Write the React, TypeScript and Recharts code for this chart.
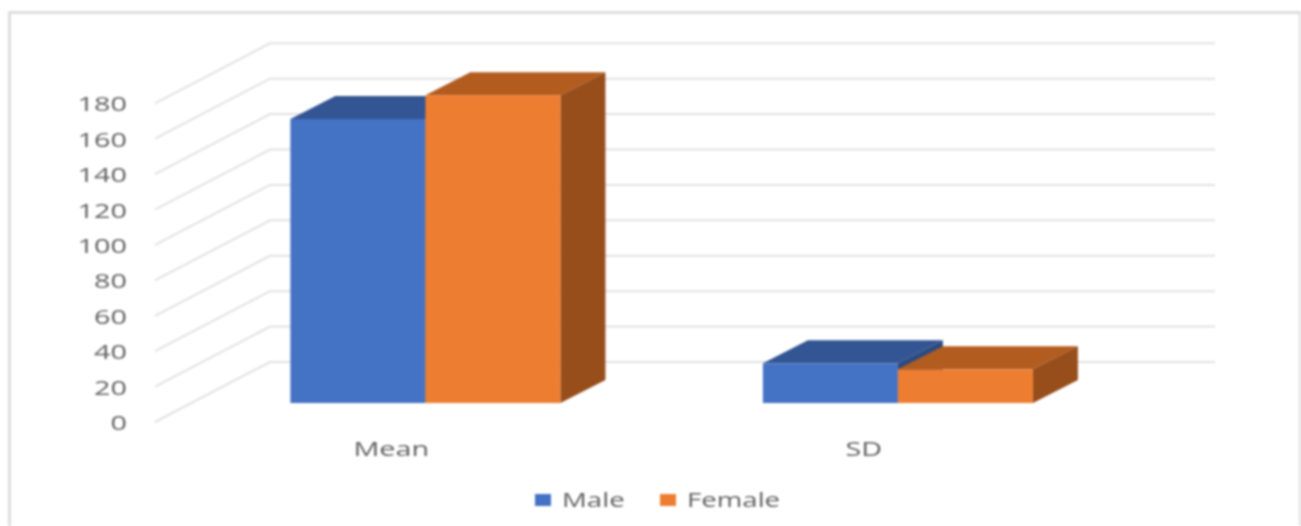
import { Bar, BarChart, CartesianGrid, Legend, XAxis, YAxis } from "recharts";

const CATEGORIES = ["Mean", "SD"];
const MALE = [160.4, 22.4];
const FEMALE = [173.8, 19];
const Y_TICKS = [0, 20, 40, 60, 80, 100, 120, 140, 160, 180];

const rows = CATEGORIES.map((name, i) => ({ name, Male: MALE[i], Female: FEMALE[i] }));

const FONT = "'Open Sans', sans-serif";
const TEXT = "#606060";
const STRETCH = 1.44; // the source picture is stretched sideways
const LEGEND_STRETCH = 1.38;
const GRID = "#e2e2e2";

// 3D projection of the Excel-style chart
const WALL_DX = 115;
const WALL_DY = -60;
const BAR_DX = 34.4;
const BAR_DY = -19;
const DEPTH_DX = 45;
const DEPTH_DY = -23;

function wallLine(p: any) {
  const { x1, x2, y1 } = p;
  return (
    <polyline
      key={p.key ?? y1}
      points={`${x1},${y1} ${x1 + WALL_DX},${y1 + WALL_DY} ${x2 + WALL_DX},${y1 + WALL_DY}`}
      fill="none"
      stroke={GRID}
      strokeWidth={2}
    />
  );
}

function box3d(top: string, side: string) {
  return function Box(p: any) {
    const x = p.x + BAR_DX;
    const y = p.y + BAR_DY;
    const { width: w, height: h, fill } = p;
    return (
      <g>
        <polygon
          points={`${x},${y} ${x + DEPTH_DX},${y + DEPTH_DY} ${x + w + DEPTH_DX},${y + DEPTH_DY} ${x + w},${y}`}
          fill={top}
        />
        <polygon
          points={`${x + w},${y} ${x + w + DEPTH_DX},${y + DEPTH_DY} ${x + w + DEPTH_DX},${y + h + DEPTH_DY} ${x + w},${y + h}`}
          fill={side}
        />
        <rect x={x} y={y} width={w} height={h} fill={fill} />
      </g>
    );
  };
}

function YTick({ x, y, payload }: any) {
  return (
    <text
      transform={`translate(${x},${y}) scale(${STRETCH},1)`}
      dy="0.4em"
      textAnchor="end"
      fontFamily={FONT}
      fontSize={20}
      fill={TEXT}
    >
      {payload.value}
    </text>
  );
}

function XTick({ x, y, payload }: any) {
  return (
    <text
      transform={`translate(${x},${y}) scale(${STRETCH},1)`}
      dy="0.35em"
      textAnchor="middle"
      fontFamily={FONT}
      fontSize={20}
      fill={TEXT}
    >
      {payload.value}
    </text>
  );
}

function LegendRow({ payload }: any) {
  return (
    <div style={{ display: "flex", fontFamily: FONT, fontSize: 20, color: TEXT, lineHeight: "24px" }}>
      {(payload ?? []).map((it: any, i: number) => (
        <div key={it.value} style={{ display: "flex", alignItems: "center", width: i === 0 ? 125 : 150 }}>
          <span style={{ width: 16, height: 12, background: it.color, marginRight: 11 }} />
          <span style={{ transform: `scaleX(${LEGEND_STRETCH})`, transformOrigin: "left center" }}>{it.value}</span>
        </div>
      ))}
    </div>
  );
}

export default function App() {
  return (
    <div
      style={{
        position: "absolute",
        left: 0,
        top: 0,
        width: 1301,
        height: 526,
        overflow: "hidden",
        background: "#fff",
        filter: "blur(0.8px)",
      }}
    >
      <div
        style={{
          position: "absolute",
          left: 8,
          top: 11,
          width: 1288,
          height: 540,
          border: "3px solid #dedede",
          boxSizing: "content-box",
        }}
      />
      <BarChart
        width={1301}
        height={526}
        data={rows}
        barSize={135}
        barGap={0}
        margin={{ top: 103.3, right: 201, bottom: 64, left: 0 }}
        style={{ position: "absolute", left: 0, top: 0 }}
      >
        <CartesianGrid vertical={false} horizontal={wallLine} />
        <XAxis
          dataKey="name"
          height={40}
          axisLine={false}
          tickLine={false}
          tickMargin={21}
          tick={<XTick />}
        />
        <YAxis
          width={155}
          domain={[0, 180]}
          ticks={Y_TICKS}
          axisLine={false}
          tickLine={false}
          tickMargin={22}
          tick={<YTick />}
        />
        <Legend
          verticalAlign="middle"
          itemSorter={null}
          content={<LegendRow />}
          wrapperStyle={{ left: 535, top: 488, width: 300 }}
        />
        <Bar dataKey="Male" fill="#4472C4" isAnimationActive={false} shape={box3d("#335593", "#2B4A80")} />
        <Bar dataKey="Female" fill="#ED7D31" isAnimationActive={false} shape={box3d("#B35C20", "#974E1B")} />
      </BarChart>
    </div>
  );
}
